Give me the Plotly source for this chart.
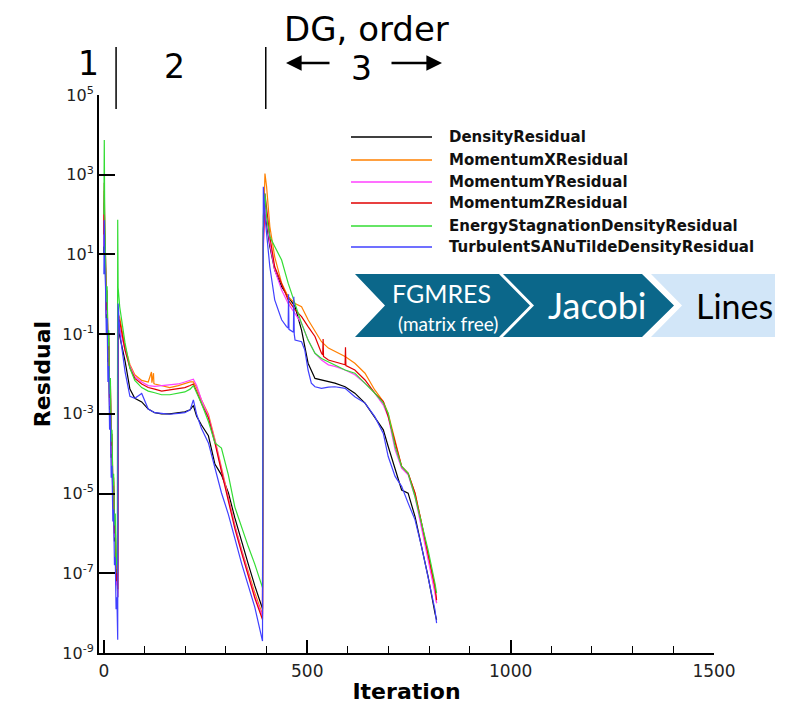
import numpy as np
import plotly.graph_objects as go

# ---------------------------------------------------------------------------
# Residual history (log10 of the residual) for the three stages of the run
# ---------------------------------------------------------------------------
ITER_STAGE1 = [0, 1, 2, 4, 6, 8, 10, 12, 14, 16, 18, 20, 22, 24, 26, 28, 30, 32, 34]
ITER_STAGE2 = [35, 39, 52, 64, 76, 93, 109, 125, 142, 162, 183, 199, 212, 220, 228,
               240, 257, 273, 289, 306, 322, 339, 355, 371, 390]
ITER_STAGE3 = [392, 396, 400, 408, 420, 437, 453, 470, 486, 502, 519, 535, 552, 568,
               593, 617, 642, 666, 687, 699, 716, 732, 748, 765, 781, 797, 814, 818]

# DensityResidual
density_s1 = [1.0, 2.3, 1.2, 0.6, -0.6, -0.2, -1.7, -1.3, -2.9, -2.5, -4.1, -3.8, -5.2,
              -4.9, -6.2, -5.9, -7.1, -6.8, -7.6]
density_s2 = [-0.86, -1.04, -1.67, -2.38, -2.61, -2.70, -2.88, -2.97, -3.00, -3.00, -2.97,
              -2.95, -2.90, -2.79, -3.06, -3.28, -3.55, -4.26, -4.53, -4.98, -5.61, -6.24,
              -6.77, -7.31, -7.89]
density_s3 = [1.61, 2.28, 1.78, 1.20, 0.61, 0.19, -0.06, -0.31, -0.90, -1.73, -2.11, -2.15,
              -2.19, -2.23, -2.32, -2.48, -2.73, -3.07, -3.40, -3.82, -4.41, -4.91, -4.99,
              -5.58, -6.33, -7.08, -8.00, -8.17]

# MomentumXResidual
momx_s1 = [1.5, 2.6, 1.5, 0.9, -0.3, 0.0, -1.5, -1.1, -2.7, -2.3, -3.9, -3.6, -5.0, -4.7,
           -6.0, -5.7, -7.0, -6.7, -7.5]
momx_s2_iter = [35, 39, 52, 64, 76, 93, 109, 117, 118, 122, 123, 125, 142, 162, 183, 199,
                212, 220, 228, 240, 257, 273, 289, 306, 322, 339, 355, 371, 390]
momx_s2 = [-0.50, -0.59, -1.31, -1.76, -2.02, -2.16, -2.20, -1.95, -2.22, -1.98, -2.24,
           -2.25, -2.29, -2.34, -2.29, -2.25, -2.20, -2.20, -2.34, -2.65, -3.01, -3.64,
           -4.35, -5.07, -5.79, -6.42, -6.95, -7.49, -8.03]
momx_s3 = [1.45, 3.03, 2.70, 1.70, 0.94, 0.28, -0.06, -0.23, -0.31, -0.64, -0.94, -1.19,
           -1.35, -1.44, -1.56, -1.73, -1.98, -2.40, -2.69, -2.99, -3.65, -4.32, -4.49,
           -4.99, -5.74, -6.58, -7.42, -7.75]

# MomentumYResidual
momy_s1 = [1.2, 2.5, 1.3, 0.7, -0.5, -0.1, -1.6, -1.2, -2.8, -2.4, -4.0, -3.7, -5.1, -4.8,
           -6.1, -5.8, -7.3, -7.0, -7.6]
momy_s2 = [-0.68, -0.86, -1.40, -1.80, -2.07, -2.20, -2.29, -2.31, -2.29, -2.28, -2.25,
           -2.20, -2.16, -2.13, -2.29, -2.65, -3.06, -3.68, -4.40, -5.12, -5.83, -6.46,
           -7.04, -7.58, -8.07]
momy_s3 = [1.11, 2.20, 1.86, 1.28, 0.61, 0.11, -0.23, -0.48, -0.73, -1.15, -1.48, -1.65,
           -1.77, -1.81, -1.90, -2.02, -2.23, -2.48, -2.78, -3.07, -3.90, -4.36, -4.53,
           -5.08, -5.83, -6.66, -7.50, -7.75]

# MomentumZResidual
momz_s1 = [1.5, 2.8, 1.6, 1.0, -0.4, 0.1, -1.4, -1.0, -2.6, -2.2, -3.8, -3.5, -4.9, -4.6,
           -6.0, -5.7, -7.2, -6.9, -7.4]
momz_s2 = [-0.59, -0.68, -1.40, -1.85, -2.11, -2.25, -2.34, -2.38, -2.43, -2.40, -2.36,
           -2.34, -2.29, -2.25, -2.43, -2.74, -3.10, -3.73, -4.44, -5.16, -5.88, -6.50,
           -7.09, -7.62, -8.16]
momz_s3_iter = [392, 396, 400, 408, 420, 437, 453, 470, 486, 502, 519, 535, 538, 539, 540,
                552, 568, 593, 594, 595, 617, 642, 666, 687, 699, 716, 732, 748, 765, 781,
                797, 814, 818]
momz_s3 = [1.28, 2.53, 2.12, 1.45, 0.69, 0.28, -0.14, -0.39, -0.56, -0.81, -1.06, -1.48,
           -1.52, -1.12, -1.56, -1.65, -1.69, -1.77, -1.33, -1.79, -1.90, -2.15, -2.48,
           -2.69, -3.07, -3.74, -4.32, -4.49, -4.99, -5.74, -6.50, -7.33, -7.67]

# EnergyStagnationDensityResidual
energy_s1_iter = [0, 1, 2, 4, 6, 8, 10, 12, 14, 16, 18, 20, 22, 24, 26, 28, 30, 32, 33, 34]
energy_s1 = [2.0, 3.87, 2.0, 1.2, -0.2, 0.2, -1.3, -0.9, -2.5, -2.1, -3.7, -3.4, -4.8, -4.5,
             -5.8, -5.5, -6.8, -6.5, -7.0, 1.87]
energy_s2 = [0.17, -0.32, -1.22, -1.85, -2.16, -2.34, -2.43, -2.47, -2.52, -2.52, -2.49,
             -2.45, -2.38, -2.29, -2.47, -2.74, -3.19, -3.73, -3.86, -4.53, -5.34, -5.88,
             -6.33, -6.77, -7.36]
energy_s3 = [1.95, 2.53, 1.95, 1.45, 1.20, 0.86, 0.28, -0.23, -0.73, -1.15, -1.48, -1.61,
             -1.69, -1.77, -1.90, -1.98, -2.23, -2.48, -2.73, -2.99, -3.82, -4.32, -4.49,
             -5.08, -5.74, -6.41, -7.25, -7.50]

# TurbulentSANuTildeDensityResidual
turb_s1 = [0.5, 1.86, 0.8, 0.2, -1.0, -0.6, -2.2, -1.8, -3.4, -3.0, -4.6, -4.3, -5.7, -5.4,
           -6.8, -6.6, -7.9, -7.6, -8.67]
turb_s2 = [-0.23, -0.95, -1.94, -2.56, -2.61, -2.49, -2.88, -2.97, -2.99, -3.01, -2.99,
           -2.97, -2.90, -2.65, -3.01, -3.37, -3.73, -4.35, -4.98, -5.52, -6.15, -6.77,
           -7.31, -7.85, -8.70]
turb_s3_iter = [392, 396, 400, 408, 420, 437, 449, 453, 454, 455, 466, 467, 468, 470, 486,
                494, 502, 510, 519, 535, 552, 568, 593, 617, 642, 666, 687, 699, 716, 732,
                748, 765, 781, 797, 814, 818]
turb_s3 = [2.70, 1.95, 1.53, 0.69, -0.14, -0.64, -0.81, -0.85, 0.00, -0.88, -0.95, -0.06,
           -1.00, -1.15, -1.19, -1.40, -1.90, -2.23, -2.32, -2.36, -2.33, -2.32, -2.36,
           -2.57, -2.73, -3.07, -3.49, -4.07, -4.57, -4.82, -5.24, -5.66, -6.33, -7.08,
           -7.92, -8.25]

SERIES_NAMES = ["DensityResidual", "MomentumXResidual", "MomentumYResidual",
                "MomentumZResidual", "EnergyStagnationDensityResidual",
                "TurbulentSANuTildeDensityResidual"]
SERIES_COLORS = ["#000000", "#ff8000", "#ff40ff", "#e00000", "#33dd33", "#4040ff"]

series_iter = [
    ITER_STAGE1 + ITER_STAGE2 + ITER_STAGE3,
    ITER_STAGE1 + momx_s2_iter + ITER_STAGE3,
    ITER_STAGE1 + ITER_STAGE2 + ITER_STAGE3,
    ITER_STAGE1 + ITER_STAGE2 + momz_s3_iter,
    energy_s1_iter + ITER_STAGE2 + ITER_STAGE3,
    ITER_STAGE1 + ITER_STAGE2 + turb_s3_iter,
]
series_log10 = [
    density_s1 + density_s2 + density_s3,
    momx_s1 + momx_s2 + momx_s3,
    momy_s1 + momy_s2 + momy_s3,
    momz_s1 + momz_s2 + momz_s3,
    energy_s1 + energy_s2 + energy_s3,
    turb_s1 + turb_s2 + turb_s3,
]

Y_TICK_EXP = [5, 3, 1, -1, -3, -5, -7, -9]

# ---------------------------------------------------------------------------
# Figure
# ---------------------------------------------------------------------------
W, H = 790, 704
ML, MR, MT, MB = 99, 76, 95, 51
PW, PH = W - ML - MR, H - MT - MB


def xp(px):
    """page pixel x -> paper coordinate"""
    return (px - ML) / PW


def yp(py):
    """page pixel y -> paper coordinate"""
    return (H - MB - py) / PH


fig = go.Figure()
for name, color, it, lg in zip(SERIES_NAMES, SERIES_COLORS, series_iter, series_log10):
    fig.add_trace(go.Scatter(
        x=it, y=np.power(10.0, lg), mode="lines", name=name,
        line=dict(color=color, width=1.2), showlegend=False,
    ))

shapes = []
annotations = []

# legend drawn as line samples and bold labels
legend_rows = [137, 160, 182, 203, 226, 247]
for name, color, row in zip(SERIES_NAMES, SERIES_COLORS, legend_rows):
    shapes.append(dict(type="line", xref="paper", yref="paper",
                       x0=xp(351), x1=xp(432), y0=yp(row), y1=yp(row),
                       line=dict(color=color, width=1.3)))
    annotations.append(dict(text="<b>" + name + "</b>", xref="paper", yref="paper",
                            x=xp(447), y=yp(row), xanchor="left", yanchor="middle",
                            showarrow=False,
                            font=dict(family="DejaVu Sans", size=15, color="#111")))

# stage separators above the plot
for it_sep in (30, 398):
    shapes.append(dict(type="line", xref="x", yref="paper",
                       x0=it_sep, x1=it_sep, y0=yp(109), y1=yp(47),
                       line=dict(color="black", width=1.5)))

stage_font = dict(family="DejaVu Sans", size=33, color="black")
for label, cx, cy in (("1", 88, 64), ("2", 174, 67), ("3", 361, 68)):
    annotations.append(dict(text=label, xref="paper", yref="paper", x=xp(cx), y=yp(cy),
                            xanchor="center", yanchor="middle", showarrow=False,
                            font=stage_font))
annotations.append(dict(text="DG, order", xref="paper", yref="paper", x=xp(366), y=yp(29),
                        xanchor="center", yanchor="middle", showarrow=False,
                        font=dict(family="DejaVu Sans", size=34, color="black")))
# arrows around the "3"
for head, tail in ((286, 331), (442, 390)):
    annotations.append(dict(text="", xref="paper", yref="paper", x=xp(head), y=yp(63),
                            ax=tail - head, ay=0, showarrow=True, arrowhead=2,
                            arrowsize=1.3, arrowwidth=2.4, arrowcolor="black"))

# solver chain chevrons
TEAL = "#0b678a"
LIGHT = "#d2e6f8"


def path(points):
    return "M " + " L ".join(f"{xp(a):.5f},{yp(b):.5f}" for a, b in points) + " Z"


chevrons = [
    ([(355, 274), (499, 274), (530, 305.5), (499, 337), (355, 337), (385, 305.5)], TEAL),
    ([(503, 274), (642, 274), (674, 305.5), (642, 337), (503, 337), (534, 305.5)], TEAL),
    ([(651, 274), (775, 274), (775, 337), (651, 337), (682, 305.5)], LIGHT),
]
for pts, col in chevrons:
    shapes.append(dict(type="path", xref="paper", yref="paper", path=path(pts),
                       fillcolor=col, line=dict(width=0), layer="above"))

chevron_text = [
    dict(text="FGMRES", x=xp(441), y=yp(293), font=dict(family="Lato", size=25, color="white")),
    dict(text="(matrix free)", x=xp(448), y=yp(323), font=dict(family="Lato", size=19, color="white")),
    dict(text="Jacobi", x=xp(597), y=yp(305), font=dict(family="Lato", size=36, color="white")),
    dict(text="Lines", x=xp(734), y=yp(305), font=dict(family="Lato", size=34, color="black")),
]
for a in chevron_text:
    a.update(xref="paper", yref="paper", xanchor="center", yanchor="middle", showarrow=False)
annotations += chevron_text

fig.update_layout(
    width=W, height=H,
    margin=dict(l=ML, r=MR, t=MT, b=MB, autoexpand=False),
    paper_bgcolor="white", plot_bgcolor="white",
    showlegend=False,
    font=dict(family="DejaVu Sans", color="#222"),
    shapes=shapes, annotations=annotations,
)

fig.update_xaxes(
    range=[-12, 1500], tickmode="linear", tick0=0, dtick=500,
    showline=True, linecolor="black", linewidth=2, mirror=False,
    ticks="inside", ticklen=13, tickwidth=2, tickcolor="black",
    minor=dict(ticks="inside", ticklen=7, tickwidth=1, dtick=100, tick0=0, tickcolor="black"),
    showgrid=False, zeroline=False, ticklabelstandoff=2, automargin=False,
    tickfont=dict(family="DejaVu Sans", size=17, color="#222"),
    title=dict(text="<b>Iteration</b>", font=dict(family="DejaVu Sans", size=22, color="black"),
               standoff=7),
)

fig.update_yaxes(
    type="log", range=[-9, 5],
    tickmode="array", tickvals=[10.0 ** e for e in Y_TICK_EXP],
    ticktext=[f"10<sup>{e}</sup>" for e in Y_TICK_EXP],
    showline=True, linecolor="black", linewidth=2, mirror=False,
    ticks="inside", ticklen=16, tickwidth=2, tickcolor="black",
    showgrid=False, zeroline=False, automargin=False,
    tickfont=dict(family="DejaVu Sans", size=16, color="#222"),
    title=dict(text="<b>Residual</b>", font=dict(family="DejaVu Sans", size=22, color="black"),
               standoff=6),
)

fig.write_html("out.html")
